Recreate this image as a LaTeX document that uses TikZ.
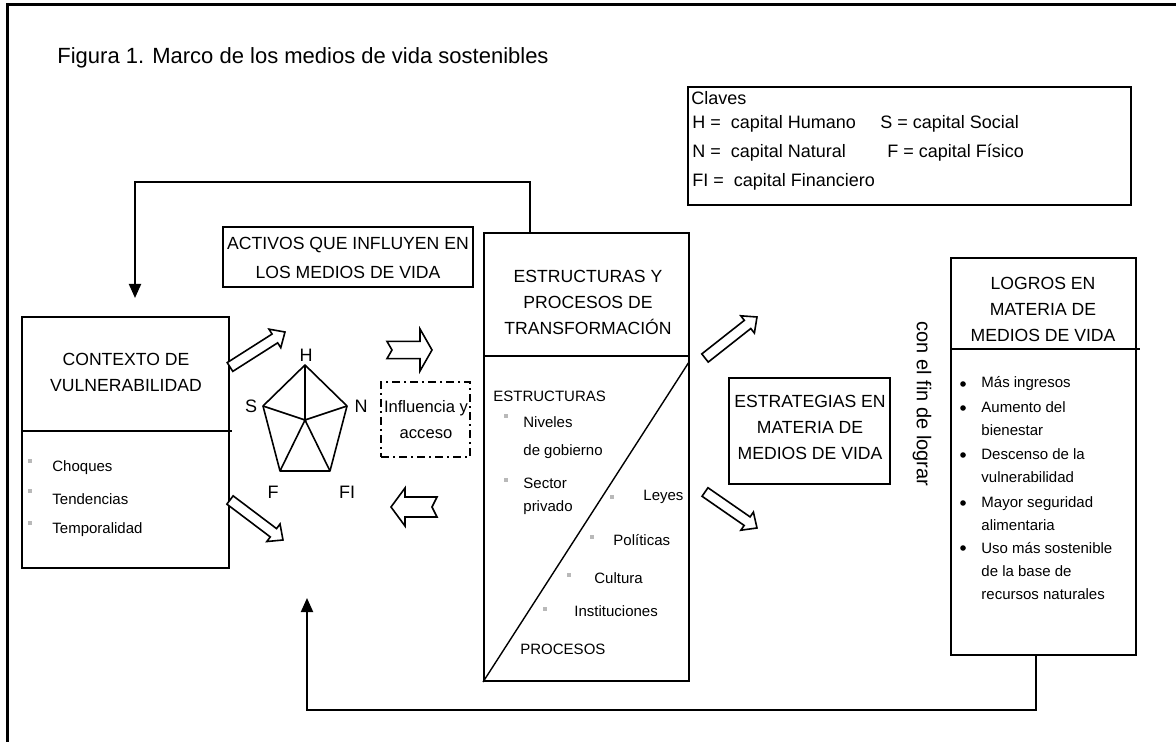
\documentclass[tikz,border=0pt]{standalone}
\usepackage{fontspec}
\setmainfont{Liberation Sans}
\usetikzlibrary{arrows.meta,calc}
\tikzset{
  box/.style={draw, line width=1pt, rectangle, inner sep=0pt},
  head/.style={font=\fontsize{8.8}{13}\selectfont, align=center, inner sep=0pt},
  small/.style={font=\fontsize{7.5}{11.5}\selectfont, align=left, inner sep=0pt, anchor=west},
  keytxt/.style={font=\fontsize{9}{11}\selectfont, inner sep=0pt, anchor=west},
  lbl/.style={font=\fontsize{9}{11}\selectfont, inner sep=0pt},
  fb/.style={line width=1pt, -{Triangle[width=6pt,length=7pt]}},
  harrowline/.style={draw, line width=0.8pt, fill=white, line join=miter},
  graybullet/.style={fill=gray!55, draw=none},
  blackbullet/.style={fill=black, draw=none},
  penta/.style={line width=0.8pt, line join=round}
}
% hollow block arrow: tail x, tail y, tip x, tip y, shaft half-width, head half-width, head length, notch depth (pt)
\newcommand\harrow[8]{%
  \pgfmathsetmacro\hAng{atan2(-((#4)-(#2)),((#3)-(#1)))}%
  \pgfmathsetmacro\hLen{0.5*veclen(((#3)-(#1)),((#4)-(#2)))}%
  \pgfmathsetmacro\hB{\hLen-#7}%
  \begin{scope}[shift={(#1,#2)},rotate=\hAng]
    \draw[harrowline] (0pt,-#5pt) -- (\hB pt,-#5pt) -- (\hB pt,-#6pt) -- (\hLen pt,0pt)
      -- (\hB pt,#6pt) -- (\hB pt,#5pt) -- (0pt,#5pt) -- (#8pt,0pt) -- cycle;
  \end{scope}}
\begin{document}
\begin{tikzpicture}[x=0.5pt,y=-0.5pt]
\useasboundingbox (0,0) rectangle (1176,742);
\fill[white] (0,0) rectangle (1176,742);
% outer frame (top and left)
\draw[line width=1.5pt] (7,742) -- (7,5) -- (1176,5);

% title
\node[font=\fontsize{11}{13}\selectfont, anchor=west, inner sep=0pt] (title) at (57,58)
  {Figura 1. Marco de los medios de vida sostenibles};

% key box
\node[box, minimum width=221.5pt, minimum height=59pt] (key) at (909.5,146) {};
\node[keytxt] (k0) at (691,98) {Claves};
\node[keytxt] (k1) at (692,124) {H =\ \ capital Humano};
\node[keytxt] (k2) at (880,124) {S = capital Social};
\node[keytxt] (k3) at (692,153) {N =\ \ capital Natural};
\node[keytxt] (k4) at (887,153) {F = capital Físico};
\node[keytxt] (k5) at (692,182) {FI =\ \ capital Financiero};

% contexto de vulnerabilidad
\node[box, minimum width=103.5pt, minimum height=125.5pt] (ctx) at (125.5,442.5) {};
\draw[line width=1pt] (ctx.west |- 0,431) -- (232,431);
\node[head] (ctxT) at (126,372) {CONTEXTO DE\\VULNERABILIDAD};
\fill[graybullet] (28,459) rectangle (32,463);
\fill[graybullet] (28,489) rectangle (32,493);
\fill[graybullet] (28,521) rectangle (32,525);
\node[small] (c1) at (52,468) {Choques};
\node[small] (c2) at (52,499) {Tendencias};
\node[small] (c3) at (52,530) {Temporalidad};

% activos box
\node[box, minimum width=125pt, minimum height=30pt] (act) at (348,257) {};
\node[head, font=\fontsize{8.8}{14.5}\selectfont] (actT) at (348,258) {ACTIVOS QUE INFLUYEN EN\\LOS MEDIOS DE VIDA};

% pentagon
\coordinate (pH) at (305,365);
\coordinate (pS) at (263,406);
\coordinate (pN) at (347,406);
\coordinate (pF) at (280,471);
\coordinate (pFI) at (330,471);
\coordinate (pC) at (305,420);
\draw[penta] (pH) -- (pN) -- (pFI) -- (pF) -- (pS) -- cycle;
\draw[penta] (pC) -- (pH) (pC) -- (pS) (pC) -- (pN) (pC) -- (pF) (pC) -- (pFI);
\node[lbl] (lH) at (306,355) {H};
\node[lbl] (lS) at (251,406) {S};
\node[lbl] (lN) at (361,406) {N};
\node[lbl] (lF) at (273,492) {F};
\node[lbl] (lFI) at (347,492) {FI};

% influencia y acceso
\node[draw, line width=0.8pt, dash pattern=on 4pt off 2pt on 1pt off 2pt, minimum width=44.5pt, minimum height=37.5pt, inner sep=0pt] (inf) at (425.5,419.5) {};
\node[font=\fontsize{8.3}{13}\selectfont, align=center, inner sep=0pt] (infT) at (426,420) {Influencia y\\acceso};

% estructuras y procesos
\node[box, minimum width=102.5pt, minimum height=224pt] (est) at (586.5,457) {};
\draw[line width=1pt] (est.west |- 0,356) -- (est.east |- 0,356);
\coordinate (diagTop) at (689,362);
\draw[line width=0.7pt] (est.south west) -- (diagTop);
\node[head] (estT) at (588,302) {ESTRUCTURAS Y\\PROCESOS DE\\TRANSFORMACIÓN};
\node[small] (e0) at (493,396) {ESTRUCTURAS};
\fill[graybullet] (504,414) rectangle (508,418);
\node[small, font=\fontsize{7.5}{14}\selectfont] (e1) at (523,438) {Niveles\\de gobierno};
\fill[graybullet] (504,478) rectangle (508,482);
\node[small] (e2) at (523,496) {Sector\\privado};
\fill[graybullet] (610,495) rectangle (614,499);
\node[small] (e3) at (643,497) {Leyes};
\fill[graybullet] (590,535) rectangle (594,539);
\node[small] (e4) at (613,540) {Políticas};
\fill[graybullet] (567,573) rectangle (571,577);
\node[small] (e5) at (594,578) {Cultura};
\fill[graybullet] (543,607) rectangle (547,611);
\node[small] (e6) at (574,611) {Instituciones};
\node[small] (e7) at (520,649) {PROCESOS};

% estrategias
\node[box, minimum width=80.5pt, minimum height=53pt] (str) at (809.5,431) {};
\node[head] (strT) at (810,427) {ESTRATEGIAS EN\\MATERIA DE\\MEDIOS DE VIDA};

% con el fin de lograr
\node[font=\fontsize{10}{12}\selectfont, rotate=-90, inner sep=0pt] (fin) at (922,404) {con el fin de lograr};

% logros
\node[box, minimum width=92.5pt, minimum height=198.5pt] (log) at (1043.5,456.5) {};
\draw[line width=1pt] (log.west |- 0,349) -- (1140,349);
\node[head] (logT) at (1043,309) {LOGROS EN\\MATERIA DE\\MEDIOS DE VIDA};
\foreach \by in {384,408,455,503,548} {\fill[blackbullet] (963,\by) circle (1.4pt);}
\node[small] (g1) at (981,384) {Más ingresos};
\node[small] (g2) at (981,419) {Aumento del\\bienestar};
\node[small] (g3) at (981,466) {Descenso de la\\vulnerabilidad};
\node[small] (g4) at (981,514) {Mayor seguridad\\alimentaria};
\node[small] (g5) at (981,571.5) {Uso más sostenible\\de la base de\\recursos naturales};

% hollow arrows
\harrow{230}{367}{285}{332}{2.6}{5.5}{6}{0}
\harrow{230}{500}{283}{540}{2.6}{5.5}{6}{0}
\harrow{387}{350}{432}{350}{4.3}{10.5}{6}{2.5}
\harrow{437}{507}{391}{507}{5}{9.5}{7}{2.5}
\harrow{705}{358}{757}{317}{2.6}{5.5}{6}{0}
\harrow{705}{492}{757}{528}{2.6}{5.5}{6}{0}

% feedback connectors
\coordinate (t1) at (530,182);
\coordinate (t2) at (135,182);
\coordinate (ttip) at (135,298);
\draw[fb] (t1 |- est.north) -- (t1) -- (t2) -- (ttip);
\coordinate (b1) at (1036,710);
\coordinate (b2) at (307,710);
\coordinate (btip) at (307,598);
\draw[fb] (b1 |- log.south) -- (b1) -- (b2) -- (btip);
\end{tikzpicture}
\end{document}
